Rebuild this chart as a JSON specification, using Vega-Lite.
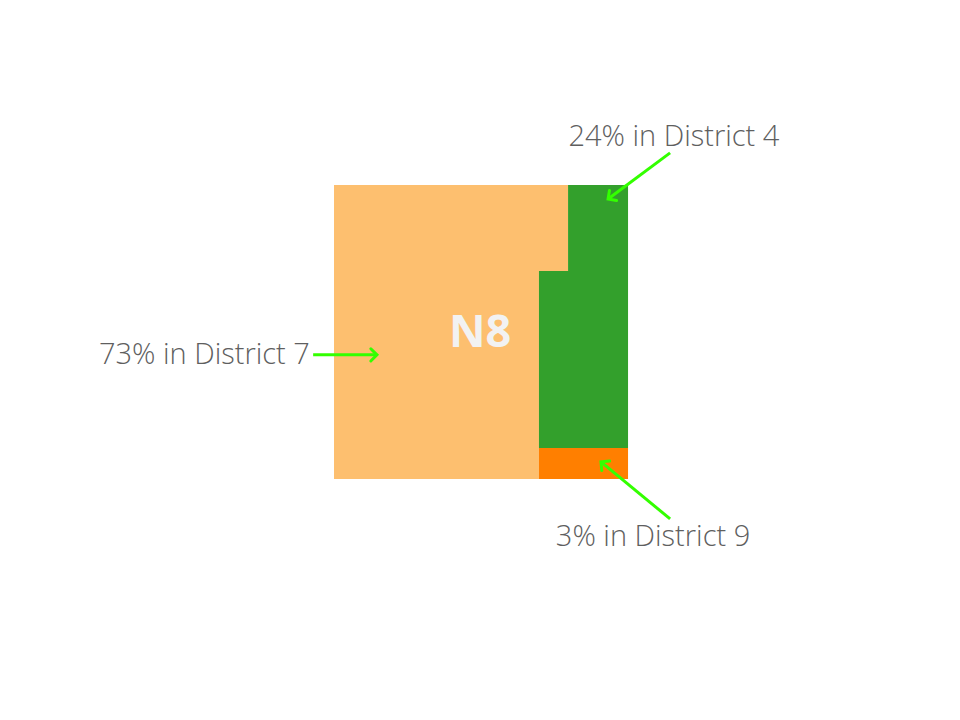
{
  "$schema": "https://vega.github.io/schema/vega-lite/v6.json",
  "width": 960,
  "height": 720,
  "autosize": {"type": "fit", "contains": "padding"},
  "padding": 0,
  "background": "white",
  "config": {"view": {"stroke": null}},
  "datasets": {
    "cells": [
      {"district": "District 7", "x0": 0, "x1": 79.6, "y0": 0, "y1": 29.3},
      {"district": "District 7", "x0": 0, "x1": 69.7, "y0": 29.3, "y1": 100},
      {"district": "District 4", "x0": 79.6, "x1": 100, "y0": 0, "y1": 29.3},
      {"district": "District 4", "x0": 69.7, "x1": 100, "y0": 29.3, "y1": 89.5},
      {"district": "District 9", "x0": 69.7, "x1": 100, "y0": 89.5, "y1": 100}
    ],
    "notes": [
      {"label": "73% in District 7", "side": "left", "tx": -8.2, "ty": 58, "ax0": -7.1, "ay0": 57.8, "ax1": 14.6, "ay1": 57.8, "angle": 0},
      {"label": "24% in District 4", "side": "center", "tx": 115.6, "ty": -16.3, "ax0": 114.3, "ay0": -10.9, "ax1": 93.2, "ay1": 4.8, "angle": 144.3},
      {"label": "3% in District 9", "side": "center", "tx": 108.5, "ty": 119.7, "ax0": 114.3, "ay0": 113.6, "ax1": 90.8, "ay1": 94.2, "angle": 219.6}
    ]
  },
  "layer": [
    {
      "data": {"name": "cells"},
      "mark": {"type": "rect"},
      "encoding": {
        "x": {"field": "x0", "type": "quantitative", "scale": {"domain": [-113.6, 212.9], "nice": false, "zero": false}, "axis": null},
        "x2": {"field": "x1"},
        "y": {"field": "y0", "type": "quantitative", "scale": {"domain": [-62.9, 182.0], "nice": false, "zero": false, "reverse": true}, "axis": null},
        "y2": {"field": "y1"},
        "color": {"field": "district", "type": "nominal", "scale": {"domain": ["District 7", "District 4", "District 9"], "range": ["#fdbf6f", "#33a02c", "#ff7f00"]}, "legend": null}
      }
    },
    {
      "data": {"values": [{"name": "N8", "x": 49.7, "y": 50.3}]},
      "mark": {"type": "text", "font": "Open Sans", "fontWeight": "bold", "fontSize": 45, "color": "#f2f2f2", "align": "center", "baseline": "middle"},
      "encoding": {
        "x": {"field": "x", "type": "quantitative"},
        "y": {"field": "y", "type": "quantitative"},
        "text": {"field": "name"}
      }
    },
    {
      "data": {"name": "notes"},
      "mark": {"type": "rule", "color": "#33ff00", "strokeWidth": 3},
      "encoding": {
        "x": {"field": "ax0", "type": "quantitative"},
        "y": {"field": "ay0", "type": "quantitative"},
        "x2": {"field": "ax1"},
        "y2": {"field": "ay1"}
      }
    },
    {
      "data": {"name": "notes"},
      "mark": {"type": "point", "shape": "M -1 -1 L 0 0 L -1 1", "filled": false, "stroke": "#33ff00", "strokeWidth": 3, "size": 150, "opacity": 1, "strokeCap": "round", "strokeJoin": "miter"},
      "encoding": {
        "x": {"field": "ax1", "type": "quantitative"},
        "y": {"field": "ay1", "type": "quantitative"},
        "angle": {"field": "angle", "type": "quantitative", "scale": null}
      }
    },
    {
      "data": {"name": "notes"},
      "transform": [{"filter": "datum.side === 'left'"}],
      "mark": {"type": "text", "font": "Open Sans", "fontWeight": 300, "fontSize": 29, "color": "#5f5f5f", "baseline": "middle", "align": "right"},
      "encoding": {
        "x": {"field": "tx", "type": "quantitative"},
        "y": {"field": "ty", "type": "quantitative"},
        "text": {"field": "label"}
      }
    },
    {
      "data": {"name": "notes"},
      "transform": [{"filter": "datum.side === 'center'"}],
      "mark": {"type": "text", "font": "Open Sans", "fontWeight": 300, "fontSize": 29, "color": "#5f5f5f", "baseline": "middle", "align": "center"},
      "encoding": {
        "x": {"field": "tx", "type": "quantitative"},
        "y": {"field": "ty", "type": "quantitative"},
        "text": {"field": "label"}
      }
    }
  ]
}
